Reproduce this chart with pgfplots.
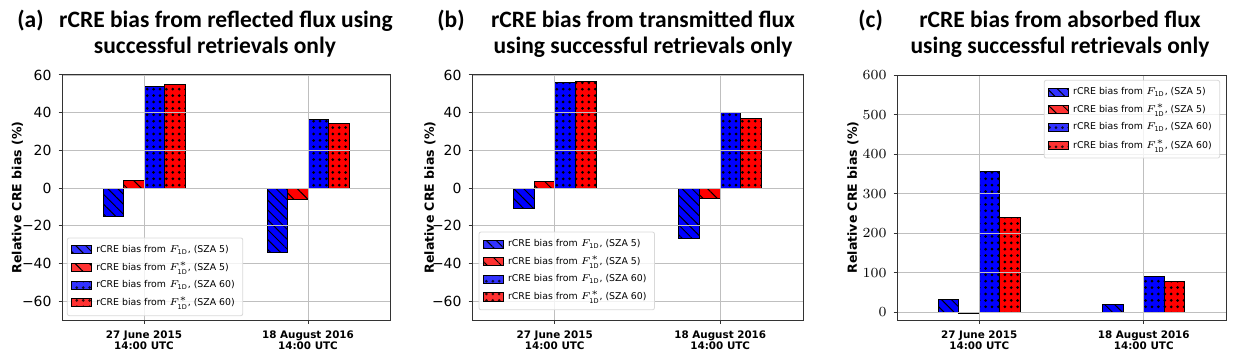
\documentclass[border=0pt]{standalone}
\usepackage{pgfplots}
\pgfplotsset{compat=1.18}
\usepackage{fontspec}
\setmainfont{DejaVu Sans}
\newfontfamily\titlefont{Carlito}
\usetikzlibrary{patterns.meta}

\pgfplotsset{
  rcre/.style={
    scale only axis, axis on top, anchor=south west,
    height=122.5bp,
    xmin=-0.5, xmax=1.5, xtick={0,1},
    xticklabels={{27 June 2015\\14:00 UTC},{18 August 2016\\14:00 UTC}},
    xticklabel style={align=center, font=\bfseries\fontsize{5.2}{5.9}\selectfont},
    yticklabel style={font=\fontsize{7}{8}\selectfont},
    grid=major, major grid style={black!25, line width=0.4bp},
    axis line style={black!80, line width=0.5bp},
    tick align=outside, tick pos=left, major tick length=1.75bp,
    tick style={black!80, line width=0.5bp},
    ylabel={Relative CRE bias (\%)},
    every axis y label/.style={at={(rel axis cs:0,0.5)}, rotate=90, anchor=center,
      font=\bfseries\fontsize{6.3}{7}\selectfont},
    legend cell align=left,
    legend style={font=\fontsize{4.7}{5.2}\selectfont, fill=white, fill opacity=0.8,
      text opacity=1, draw=black!15, rounded corners=1bp, row sep=-0.6bp,
      inner xsep=2bp, inner ysep=1.5bp},
  },
  cbar/.style={ybar, bar width=0.125, draw=black, line width=0.5bp,
    legend image code/.code={\draw[sharp corners,##1] (0bp,-2bp) rectangle (10bp,2bp);}},
  b5/.style={cbar, bar shift=-0.1875, fill=blue,
    postaction={pattern={Lines[angle=-45,distance=3.5bp,line width=0.5bp]}, pattern color=black}},
  r5/.style={cbar, bar shift=-0.0625, fill=red,
    postaction={pattern={Lines[angle=-45,distance=5bp,line width=0.5bp]}, pattern color=black}},
  b60/.style={cbar, bar shift=0.0625, fill=blue,
    postaction={pattern={Dots[distance=3.2bp,radius=0.75bp]}, pattern color=black}},
  r60/.style={cbar, bar shift=0.1875, fill=red,
    postaction={pattern={Dots[distance=3.2bp,radius=0.75bp]}, pattern color=black}},
}

\newcommand\ttl{\titlefont\bfseries\fontsize{11.8}{13}\selectfont}
\newcommand\fa{$F_{\mathrm{1D}}$}
\newcommand\fb{$F^{*}_{\mathrm{1D}}$}

\begin{document}
\begin{tikzpicture}
\path (0,0) rectangle (619bp,-179bp);

% titles
\node[anchor=base west, inner sep=0pt, font=\ttl] at (8.5bp,-13.5bp) {(a)};
\node[anchor=base, inner sep=0pt, font=\ttl] at (113bp,-13.5bp) {rCRE bias from reflected flux using};
\node[anchor=base, inner sep=0pt, font=\ttl] at (107.5bp,-26.5bp) {successful retrievals only};
\node[anchor=base west, inner sep=0pt, font=\ttl] at (218.5bp,-13.5bp) {(b)};
\node[anchor=base, inner sep=0pt, font=\ttl] at (321.5bp,-13.5bp) {rCRE bias from transmitted flux};
\node[anchor=base, inner sep=0pt, font=\ttl] at (321.5bp,-26.5bp) {using successful retrievals only};
\node[anchor=base west, inner sep=0pt, font=\ttl] at (429bp,-13.5bp) {(c)};
\node[anchor=base, inner sep=0pt, font=\ttl] at (530bp,-13.5bp) {rCRE bias from absorbed flux};
\node[anchor=base, inner sep=0pt, font=\ttl] at (530bp,-26.5bp) {using successful retrievals only};

% (a) reflected
\begin{axis}[rcre, at={(31bp,-160bp)}, width=164bp,
  ymin=-70, ymax=60, ytick={-60,-40,-20,0,20,40,60},
  yticklabels={−60,−40,−20,0,20,40,60},
  ylabel style={yshift=22.25bp},
  legend style={at={(0.015,0.016)}, anchor=south west}]
\addplot[b5]  coordinates {(0,-15.2) (1,-34.2)};
\addlegendentry{rCRE bias from \fa, (SZA 5)}
\addplot[r5]  coordinates {(0,4.2) (1,-5.8)};
\addlegendentry{rCRE bias from \fb, (SZA 5)}
\addplot[b60] coordinates {(0,53.8) (1,36.5)};
\addlegendentry{rCRE bias from \fa, (SZA 60)}
\addplot[r60] coordinates {(0,55.2) (1,34.0)};
\addlegendentry{rCRE bias from \fb, (SZA 60)}
\end{axis}

% (b) transmitted
\begin{axis}[rcre, at={(236bp,-160bp)}, width=165.5bp,
  ymin=-70, ymax=60, ytick={-60,-40,-20,0,20,40,60},
  yticklabels={−60,−40,−20,0,20,40,60},
  ylabel style={yshift=21bp},
  legend style={at={(0.02,0.04)}, anchor=south west}]
\addplot[b5]  coordinates {(0,-10.6) (1,-26.5)};
\addlegendentry{rCRE bias from \fa, (SZA 5)}
\addplot[r5]  coordinates {(0,3.5) (1,-5.3)};
\addlegendentry{rCRE bias from \fb, (SZA 5)}
\addplot[b60] coordinates {(0,55.8) (1,40.0)};
\addlegendentry{rCRE bias from \fa, (SZA 60)}
\addplot[r60] coordinates {(0,56.4) (1,37.0)};
\addlegendentry{rCRE bias from \fb, (SZA 60)}
\end{axis}

% (c) absorbed
\begin{axis}[rcre, at={(448.5bp,-160bp)}, width=164.5bp,
  ymin=-20, ymax=600, ytick={0,100,200,300,400,500,600},
  ylabel style={yshift=22bp},
  legend style={at={(0.982,0.98)}, anchor=north east}]
\addplot[b5]  coordinates {(0,31) (1,18.5)};
\addlegendentry{rCRE bias from \fa, (SZA 5)}
\addplot[r5]  coordinates {(0,-4) (1,-2)};
\addlegendentry{rCRE bias from \fb, (SZA 5)}
\addplot[b60] coordinates {(0,355.5) (1,90)};
\addlegendentry{rCRE bias from \fa, (SZA 60)}
\addplot[r60] coordinates {(0,240) (1,77.4)};
\addlegendentry{rCRE bias from \fb, (SZA 60)}
\end{axis}
\end{tikzpicture}
\end{document}
